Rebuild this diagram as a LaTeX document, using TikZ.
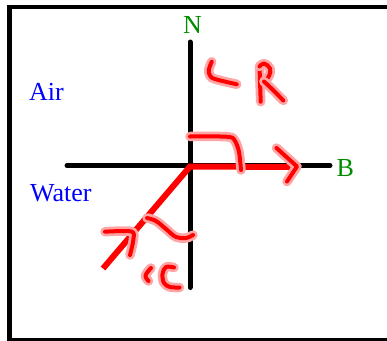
\documentclass[tikz,border=0pt]{standalone}
\usepackage{fontspec}
\setmainfont{Liberation Serif}
\definecolor{labgreen}{RGB}{0,140,0}
\definecolor{labblue}{RGB}{0,0,255}
\definecolor{halo}{RGB}{255,165,165}
\begin{document}
\begin{tikzpicture}[x=1pt,y=-1pt,
  axis/.style={line width=5pt, line cap=round},
  ray/.style={draw=red, line width=6pt, line join=miter},
  hand/.style={draw=red, line width=4pt, line cap=round, line join=round,
    preaction={draw=halo, line width=9.5pt, line cap=round, line join=round}},
  lab/.style={inner sep=0pt, font=\fontsize{26}{31}\selectfont}]
\useasboundingbox (0,0) rectangle (387,340);
\begin{scope}
\clip (0,0) rectangle (387,340);
\draw[line width=5pt] (9.5,7) -- (9.5,345);
\draw[line width=4pt] (7,7) -- (400,7);
\draw[line width=3pt] (9.5,339.5) -- (400,339.5);
\end{scope}
% axes
\coordinate (Ntop) at (190,42);
\coordinate (Nbot) at (190,287.5);
\coordinate (Hleft) at (67,165.5);
\coordinate (Hright) at (330,165.5);
\coordinate (O) at (190,166.5);
\coordinate (Rend) at (298,167);
\coordinate (Iend) at (103,268.5);
\draw[axis] (Ntop) -- (Nbot);
\draw[axis] (Hleft) -- (Hright);
\draw[ray] (Iend) -- (O) -- (Rend);
% labels
\node[lab, text=labgreen, anchor=base] (N) at (192.5,33.3) {N};
\node[lab, text=labgreen, anchor=base west] (B) at (336.5,176.7) {B};
\node[lab, text=labblue, anchor=base west] (air) at (29,100) {Air};
\node[lab, text=labblue, anchor=base west] (water) at (30,201.7) {Water};
% arrow chevrons
\draw[hand] (276.5,148) -- (297,166.5) -- (287,181.5);
\draw[hand] plot[smooth, tension=0.5] coordinates {(105,231.7) (131.5,231.5) (133.3,240) (130,255)};
% angle marks
\draw[hand] plot[smooth, tension=0.5] coordinates {(190,136.5) (228,136.8) (235,141) (239,152) (241,170)};
\draw[hand] plot[smooth, tension=0.6] coordinates {(147,218) (156,221) (166,229) (176,237) (186,238) (193,235)};
% angle R
\draw[hand] plot[smooth, tension=0.6] coordinates {(211.7,61.7) (208.8,70) (210,75.5) (215,79) (236.7,84.3)};
\draw[hand] (260.7,101.7) -- (259.5,66.5);
\draw[hand] plot[smooth, tension=0.7] coordinates {(259.5,66.5) (264,63.5) (270,68.5) (269,76) (264,81.5)};
\draw[hand] plot[smooth, tension=0.5] coordinates {(264,81.5) (273,90) (283.3,100.5)};
% angle C
\draw[hand] plot[smooth, tension=0.6] coordinates {(151,268) (145.5,275.5) (148.5,281)};
\draw[hand] plot[smooth, tension=0.6] coordinates {(174,267.5) (166,267) (162.5,274) (164,283) (170,287) (179.5,287.5)};
\end{tikzpicture}
\end{document}
